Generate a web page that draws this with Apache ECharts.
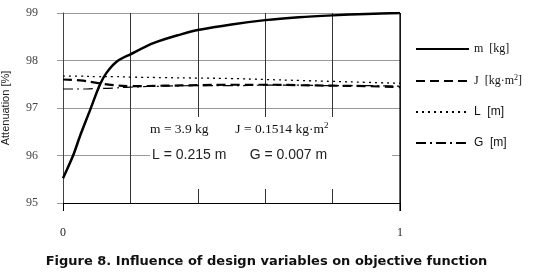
<!DOCTYPE html>
<html><head><meta charset="utf-8">
<script src="https://cdn.jsdelivr.net/npm/echarts@6/dist/echarts.min.js"></script>
<style>html,body{margin:0;padding:0;background:#fff}#c{width:533px;height:274px}</style>
</head><body><div id="c"></div>
<script>
// Data
const mX = [0, 0.03, 0.05, 0.08, 0.11, 0.13, 0.16, 0.2, 0.27, 0.35, 0.4, 0.5, 0.6, 0.7, 0.8, 0.9, 1];
const mY = [95.52, 96.0, 96.4, 96.95, 97.5, 97.75, 97.98, 98.13, 98.37, 98.55, 98.64, 98.76, 98.85, 98.91, 98.95, 98.98, 99.0];
const vX = [0, 0.05, 0.1, 0.15, 0.2, 0.3, 0.4, 0.5, 0.6, 0.7, 0.8, 0.9, 1];
const jY = [97.60, 97.58, 97.53, 97.48, 97.46, 97.47, 97.48, 97.49, 97.49, 97.48, 97.47, 97.46, 97.44];
const lY = [97.67, 97.67, 97.66, 97.66, 97.65, 97.64, 97.63, 97.62, 97.60, 97.58, 97.56, 97.54, 97.52];
const gY = [97.40, 97.40, 97.41, 97.42, 97.44, 97.46, 97.47, 97.47, 97.48, 97.48, 97.47, 97.47, 97.46];
const seriesNames = ['m', 'J', 'L', 'G'];
const xTicks = [0, 1];
const yMin = 95, yMax = 99;

const pair = (xs, ys) => xs.map((x, i) => [x, ys[i]]);
const chart = echarts.init(document.getElementById('c'));
const serif = '"Liberation Serif","DejaVu Serif",serif';
const sans = '"Liberation Sans",Arial,sans-serif';
chart.setOption({
  animation: false,
  backgroundColor: '#fff',
  grid: { left: 63, right: 133, top: 13, bottom: 71, outerBoundsMode: 'none', containLabel: false },
  title: {
    text: 'Figure 8. Influence of design variables on objective function',
    left: 'center', bottom: 1,
    textStyle: { fontFamily: '"DejaVu Sans",sans-serif', fontWeight: 'bold', fontSize: 13, color: '#111' }
  },
  legend: {
    orient: 'vertical', left: 410, top: 38, itemWidth: 53, itemHeight: 14, itemGap: 19,
    data: seriesNames,
    itemStyle: { opacity: 0 },
    textStyle: { color: '#111', fontSize: 12, fontFamily: serif,
      rich: {
        s: { fontFamily: serif, fontSize: 12, color: '#111' },
        a: { fontFamily: sans, fontSize: 12, color: '#111' },
        sup: { fontFamily: serif, fontSize: 8, color: '#111', verticalAlign: 'top', padding: [0,0,6,0] }
      } },
    formatter: function (n) {
      if (n === 'm') return '{s|m  [kg]}';
      if (n === 'J') return '{s|J  [kg·m}{sup|2}{s|]}';
      if (n === 'L') return '{a|L  [m]}';
      return '{a|G  [m]}';
    }
  },
  xAxis: [{
    type: 'value', min: 0, max: 1, interval: 0.2,
    axisLine: { show: true, lineStyle: { color: '#000', width: 1.2 } },
    axisTick: { show: false },
    axisLabel: { show: false },
    splitLine: { show: true, lineStyle: { color: '#333', width: 1 } }
  }, {
    type: 'value', min: 0, max: 1, interval: 1, position: 'bottom',
    axisLine: { show: false },
    axisTick: { show: true, length: 8, customValues: xTicks, lineStyle: { color: '#000' } },
    axisLabel: { margin: 24, customValues: xTicks, color: '#222', fontFamily: serif, fontSize: 12 },
    splitLine: { show: false }
  }],
  yAxis: {
    type: 'value', min: yMin, max: yMax, interval: 1,
    name: 'Attenuation [%]', nameLocation: 'middle', nameGap: 52, nameRotate: 90,
    nameTextStyle: { fontFamily: sans, fontSize: 11, color: '#222' },
    axisLine: { show: true, lineStyle: { color: '#444' } },
    axisTick: { show: true, length: 6, lineStyle: { color: '#999' } },
    axisLabel: { margin: 25, color: '#444', fontFamily: serif, fontSize: 12 },
    splitLine: { show: true, lineStyle: { color: '#999', width: 1 } }
  },
  graphic: [
    { type: 'rect', left: 150, top: 117, shape: { width: 242, height: 72 }, style: { fill: '#fff' }, z: 10 },
    { type: 'line', shape: { x1: 400, y1: 13, x2: 400, y2: 211 }, style: { stroke: '#000', lineWidth: 1.2 }, z: 11 },
    { type: 'text', left: 150, top: 121, z: 12,
      style: { text: '{s|m = 3.9 kg}        {s|J = 0.1514 kg·m}{sup|2}',
        rich: { s: { fontFamily: serif, fontSize: 13.5, fill: '#111' },
                sup: { fontFamily: serif, fontSize: 9, fill: '#111', verticalAlign: 'top', padding: [0,0,7,0] } } } },
    { type: 'text', left: 152, top: 148, z: 12,
      style: { text: 'L = 0.215 m      G = 0.007 m', font: '14px "Liberation Sans", Arial, sans-serif', fill: '#222' } }
  ],
  series: [
    { name: 'm', type: 'line', data: pair(mX, mY), smooth: 0.3, showSymbol: false, symbol: 'none',
      lineStyle: { color: '#000', width: 2.5 }, itemStyle: { color: '#000' } },
    { name: 'J', type: 'line', data: pair(vX, jY), smooth: true, showSymbol: false, symbol: 'none',
      lineStyle: { color: '#000', width: 2.2, type: [9, 5] }, itemStyle: { color: '#000' } },
    { name: 'L', type: 'line', data: pair(vX, lY), smooth: true, showSymbol: false, symbol: 'none',
      lineStyle: { color: '#000', width: 1.3, type: [2, 4] }, itemStyle: { color: '#000' } },
    { name: 'G', type: 'line', data: pair(vX, gY), smooth: true, showSymbol: false, symbol: 'none',
      lineStyle: { color: '#000', width: 1.2, type: [10, 4, 2, 4] }, itemStyle: { color: '#000' } }
  ]
});
</script></body></html>
